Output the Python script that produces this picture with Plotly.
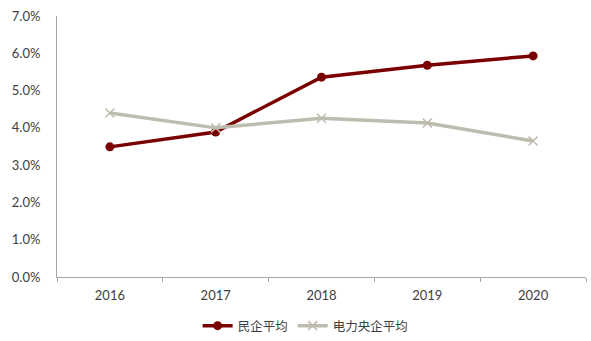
import plotly.graph_objects as go

years = ["2016", "2017", "2018", "2019", "2020"]
private_avg = [3.49, 3.89, 5.36, 5.68, 5.93]
power_soe_avg = [4.40, 4.00, 4.26, 4.13, 3.65]
y_ticks = [0, 1, 2, 3, 4, 5, 6, 7]
y_tick_labels = ["0.0%", "1.0%", "2.0%", "3.0%", "4.0%", "5.0%", "6.0%", "7.0%"]

num_font = "Lato, 'Noto Sans CJK SC', sans-serif"
cjk_font = "'Noto Sans CJK SC', sans-serif"

fig = go.Figure()
fig.add_trace(go.Scatter(
    x=years, y=private_avg, name="民企平均", mode="lines+markers",
    line=dict(color="#7A0000", width=3.5),
    marker=dict(symbol="circle", size=9, color="#7A0000"),
))
fig.add_trace(go.Scatter(
    x=years, y=power_soe_avg, name="电力央企平均", mode="lines+markers",
    line=dict(color="#BDBCAE", width=3.5),
    marker=dict(symbol="x-thin", size=9, color="#BDBCAE", line=dict(color="#BDBCAE", width=1.5)),
))

fig.update_layout(
    width=591, height=341,
    margin=dict(l=57, r=5, t=16, b=64),
    plot_bgcolor="white", paper_bgcolor="white",
    font=dict(family=num_font, size=13, color="#404040"),
    showlegend=True,
    legend=dict(
        orientation="h", x=0.47, xanchor="center", y=2, yanchor="bottom",
        yref="container", font=dict(family=cjk_font, size=12.5, color="#404040"),
        itemwidth=30, tracegroupgap=0,
    ),
    xaxis=dict(
        type="category", tickson="boundaries", ticks="outside", ticklen=4,
        tickcolor="#A6A6A6", showline=True, linecolor="#A6A6A6", linewidth=1,
        showgrid=False, zeroline=False, range=[-0.5, 4.5], ticklabelstandoff=6,
        tickfont=dict(family=num_font, size=13, color="#404040"),
    ),
    yaxis=dict(
        range=[0, 7], tickvals=y_ticks, ticktext=y_tick_labels,
        showline=True, linecolor="#A6A6A6", linewidth=1, ticks="",
        showgrid=False, zeroline=False, ticklabelstandoff=13,
        tickfont=dict(family=num_font, size=13, color="#404040"),
    ),
)

fig.write_html("out.html")
